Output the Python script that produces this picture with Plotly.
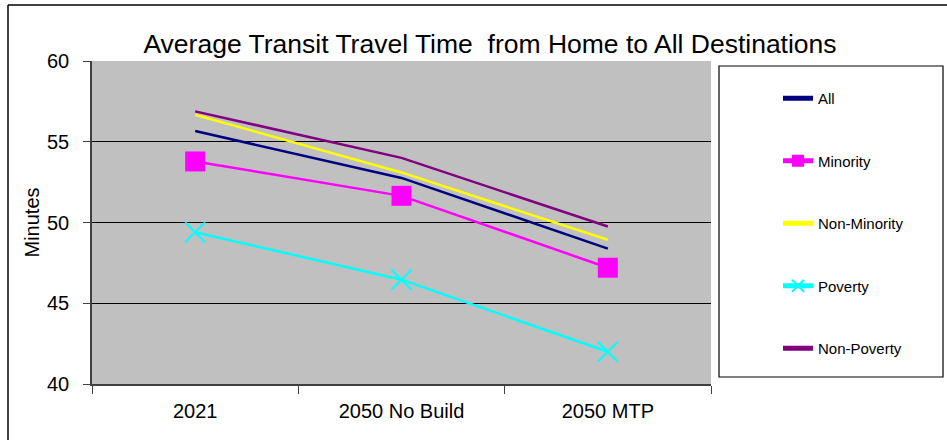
import plotly.graph_objects as go

categories = ["2021", "2050 No Build", "2050 MTP"]
series_names = ["All", "Minority", "Non-Minority", "Poverty", "Non-Poverty"]
all_vals = [55.66, 52.76, 48.38]
minority_vals = [53.78, 51.65, 47.2]
non_minority_vals = [56.67, 53.1, 48.93]
poverty_vals = [49.4, 46.46, 42.0]
non_poverty_vals = [56.88, 54.0, 49.75]
y_ticks = [40, 45, 50, 55, 60]

values = [all_vals, minority_vals, non_minority_vals, poverty_vals, non_poverty_vals]
colors = ["#000080", "#FF00FF", "#FFFF00", "#00FFFF", "#800080"]
markers = [None, dict(symbol="square", size=20, color="#FF00FF"), None,
           dict(symbol="x-thin-open", size=20, line=dict(color="#00FFFF", width=2)), None]

fig = go.Figure()
for i, (name, vals, col, mk) in enumerate(zip(series_names, values, colors, markers)):
    kw = dict(mode="lines")
    if mk is not None:
        kw = dict(mode="lines+markers", marker=mk)
    fig.add_trace(go.Scatter(x=categories, y=vals, name=name, line=dict(color=col, width=2.5),
                             legendgroup=f"g{i}", **kw))

L, R, T, B = 92, 711, 61, 384
W, H = 947, 440
pw, ph = R - L, B - T

def px(x):
    return (x - L) / pw

def py(y):
    return (B - y) / ph

shapes = [
    dict(type="rect", xref="paper", yref="paper", x0=px(719), x1=px(943), y0=py(377), y1=py(66),
         line=dict(color="black", width=1.2), fillcolor="white", layer="below"),
    dict(type="line", xref="paper", yref="paper", x0=px(8), x1=px(8), y0=py(440), y1=py(5),
         line=dict(color="black", width=1.5)),
    dict(type="line", xref="paper", yref="paper", x0=px(8), x1=px(947), y0=py(5), y1=py(5),
         line=dict(color="black", width=1.5)),
]

fig.update_layout(
    width=W, height=H,
    margin=dict(l=L, r=W - R, t=T, b=H - B),
    paper_bgcolor="white",
    plot_bgcolor="#C0C0C0",
    font=dict(family="Liberation Sans, Arial, sans-serif", color="black"),
    title=dict(text="Average Transit Travel Time  from Home to All Destinations",
               x=490 / W, xanchor="center", y=1 - 44 / H, yanchor="middle",
               font=dict(size=26.5, color="black")),
    shapes=shapes,
    showlegend=True,
    legend=dict(x=px(778), xanchor="left", y=py(82), yanchor="top",
                bgcolor="rgba(0,0,0,0)", borderwidth=0,
                font=dict(size=15, color="black"), itemsizing="constant",
                traceorder="grouped", tracegroupgap=40),
    xaxis=dict(type="category", showgrid=False, ticks="outside", tickson="boundaries",
               ticklen=8, tickcolor="#404040", showline=True, linecolor="#404040", linewidth=1.5,
               tickfont=dict(size=20), ticklabelstandoff=8, range=[-0.5, 2.5]),
    yaxis=dict(range=[40, 60], tickvals=y_ticks, ticks="outside", ticklen=7, tickcolor="#404040",
               showline=True, linecolor="#404040", linewidth=1.5,
               showgrid=True, gridcolor="black", gridwidth=1,
               tickfont=dict(size=20), ticklabelstandoff=10,
               title=dict(text="Minutes", font=dict(size=20), standoff=2)),
)

fig.write_html("out.html")
